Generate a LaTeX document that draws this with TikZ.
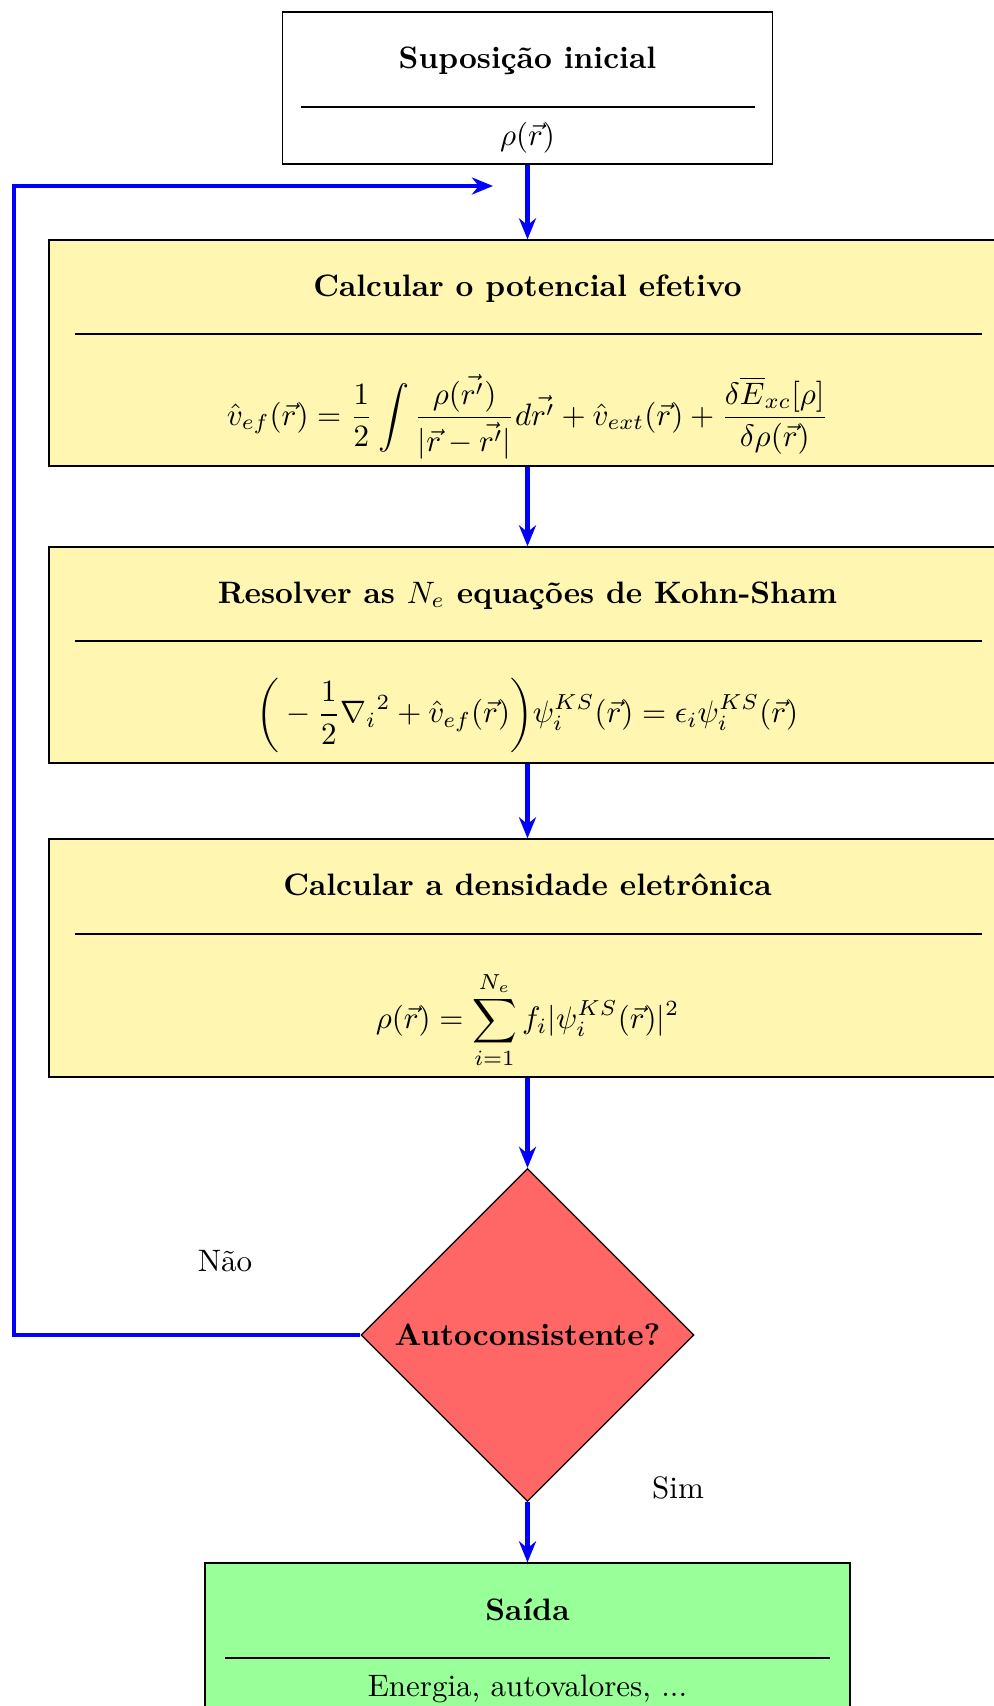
\documentclass[tikz,border=0pt]{standalone}
\usepackage{amsmath}
\usetikzlibrary{shapes.geometric,arrows.meta}
\definecolor{boxyellow}{RGB}{255,247,177}
\begin{document}
\begin{tikzpicture}[x=0.3226pt,y=-0.3226pt,
  box/.style={draw=black, line width=0.4pt, rectangle, inner sep=0pt},
  yellowbox/.style={box, fill=boxyellow, minimum width=308.7pt},
  flow/.style={draw=blue, ultra thick, line join=miter, -{Stealth[length=6.8pt,width=5.5pt,inset=2.2pt]}},
  divider/.style={draw=black, line width=0.4pt},
  ttl/.style={font=\bfseries, anchor=base, inner sep=0pt},
  txt/.style={anchor=base, inner sep=0pt},
  eqn/.style={inner sep=0pt},
  decision/.style={diamond, aspect=1, draw=black, line width=0.4pt, fill=red!60, minimum width=107.4pt, minimum height=107.4pt, inner sep=0pt, font=\bfseries},
]
\useasboundingbox (0,0) rectangle (993,1706);

% initial guess
\node[box, fill=white, minimum width=158.1pt, minimum height=49pt] (init) at (527.5,88) {};
\node[ttl] (initT) at (527.5,69) {Suposição inicial};
\draw[divider] (301,107) -- (755,107);
\node[txt] (initR) at (527.5,146) {$\rho(\vec{r})$};

% effective potential
\node[yellowbox, minimum height=72.9pt] (pot) at (527.5,353) {};
\node[ttl] (potT) at (527.5,297) {Calcular o potencial efetivo};
\draw[divider] (75,334) -- (982,334);
\node[eqn] (potE) at (527.5,417) {$\displaystyle \hat{v}_{ef}(\vec{r})=\frac{1}{2}\int\frac{\rho(\vec{r'})}{|\vec{r}-\vec{r'}|}d\vec{r'}+\hat{v}_{ext}(\vec{r})+\frac{\delta\overline{E}_{xc}[\rho]}{\delta\rho(\vec{r})}$};

% Kohn-Sham
\node[yellowbox, minimum height=69.7pt] (ks) at (527.5,655) {};
\node[ttl] (ksT) at (527.5,603) {Resolver as $N_e$ equações de Kohn-Sham};
\draw[divider] (75,641) -- (982,641);
\node[eqn] (ksE) at (527.5,715) {$\displaystyle \biggl({}-\frac{1}{2}{\nabla_i}^2+\hat{v}_{ef}(\vec{r})\biggr)\psi_i^{KS}(\vec{r})=\epsilon_i\psi_i^{KS}(\vec{r})$};

% density
\node[yellowbox, minimum height=76.8pt] (dens) at (527.5,958) {};
\node[ttl] (densT) at (527.5,895) {Calcular a densidade eletrônica};
\draw[divider] (75,934) -- (982,934);
\node[eqn] (densE) at (527.5,1020) {$\displaystyle \rho(\vec{r})=\sum_{i=1}^{N_e} f_i|\psi_i^{KS}(\vec{r})|^2$};

% decision
\node[decision] (dec) at (527.5,1335) {Autoconsistente?};

% output
\node[box, fill=green!40, minimum width=208.1pt, minimum height=49pt] (out) at (527.5,1639) {};
\node[ttl] (outT) at (527.5,1620) {Saída};
\draw[divider] (225,1658) -- (830,1658);
\node[txt] (outR) at (527.5,1696) {Energia, autovalores, ...};

% labels
\node[txt] (nao) at (225,1271) {Não};
\node[txt] (sim) at (678,1498) {Sim};

% connectors
\draw[flow] (init.south) -- (pot.north);
\draw[flow] (pot.south) -- (ks.north);
\draw[flow] (ks.south) -- (dens.north);
\draw[flow] (dens.south) -- (dec.north);
\draw[flow] (dec.south) -- (out.north);
\coordinate (lc) at (14,186);
\coordinate (le) at (493,186);
\draw[flow] (dec.west) -| (lc) -- (le);
\end{tikzpicture}
\end{document}
